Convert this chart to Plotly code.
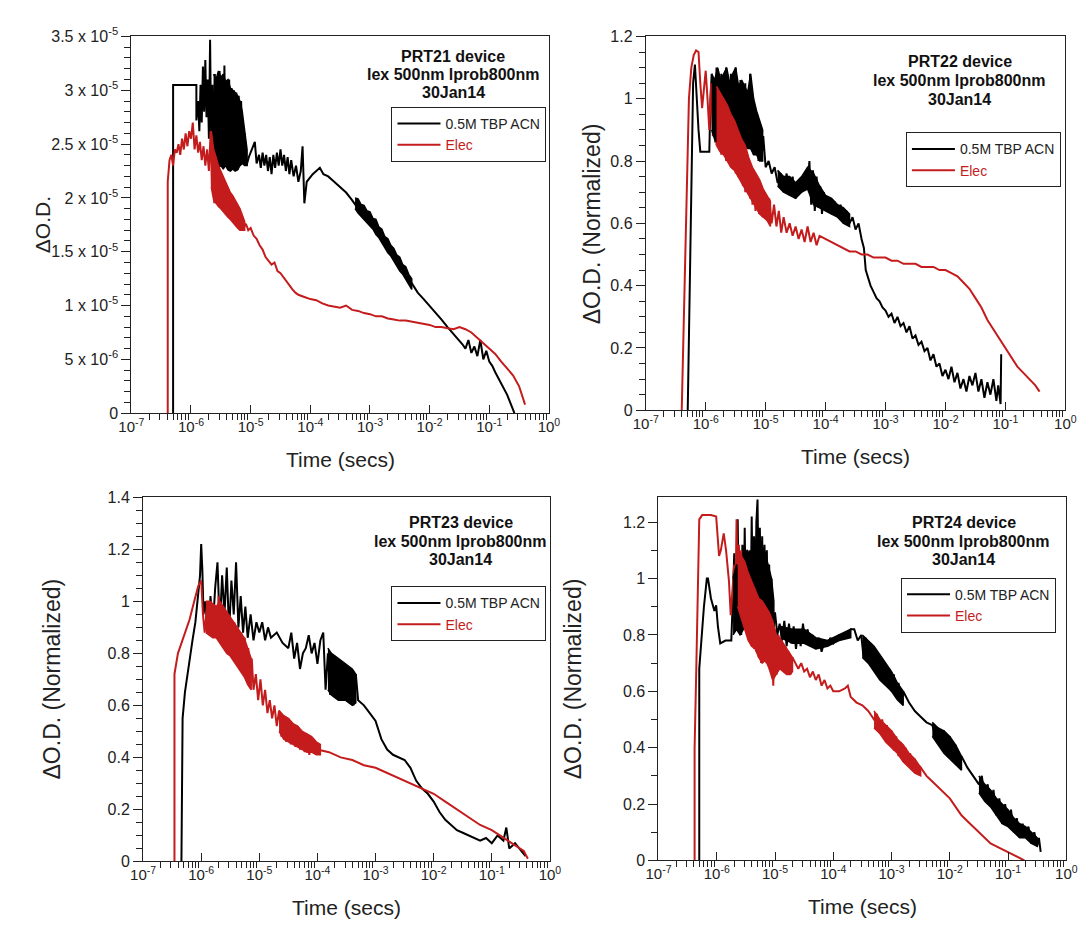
import numpy as np
import plotly.graph_objects as go

# ---------------- data ----------------
# times are log10(t / s); PRT21 values are in units of 1e-5 dOD
p1_black_logt = [-6.30, -6.30, -5.91, -5.91, -5.88, -5.86, -5.84, -5.82, -5.80, -5.78, -5.76, -5.74, -5.72, -5.70,
                 -5.68, -5.66, -5.64, -5.62, -5.60, -5.58, -5.56, -5.54, -5.52, -5.50, -5.48, -5.46, -5.44, -5.42,
                 -5.40, -5.38, -5.36, -5.34, -5.32, -5.30, -5.28, -5.26, -5.24, -5.22, -5.20, -5.18, -5.16, -5.13,
                 -5.10, -5.07, -5.03, -4.98, -4.93, -4.90, -4.86, -4.83, -4.80, -4.77, -4.74, -4.71, -4.68, -4.65,
                 -4.62, -4.59, -4.56, -4.53, -4.50, -4.47, -4.44, -4.41, -4.38, -4.35, -4.32, -4.28, -4.24, -4.20,
                 -4.16, -4.13, -4.10, -4.06, -4.02, -3.96, -3.90, -3.84, -3.78, -3.70, -3.60, -3.50, -3.40, -3.30,
                 -3.20, -3.10, -3.00, -2.90, -2.80, -2.70, -2.60, -2.50, -2.40, -2.30, -2.20, -2.10, -2.00, -1.90,
                 -1.80, -1.70, -1.60, -1.50, -1.45, -1.40, -1.35, -1.30, -1.25, -1.20, -1.15, -1.10, -1.05, -1.00,
                 -0.95, -0.90, -0.80, -0.70, -0.60, -0.58]
p1_black_od_e5 = [0.00, 3.05, 3.05, 2.72, 2.90, 2.62, 3.05, 2.70, 3.22, 2.80, 3.28, 2.75, 3.10, 2.55,
                  3.47, 2.45, 3.05, 2.35, 3.15, 2.30, 3.10, 2.28, 3.18, 2.30, 3.12, 2.27, 3.23, 2.30,
                  3.08, 2.26, 3.10, 2.25, 3.02, 2.27, 3.00, 2.25, 2.98, 2.26, 2.95, 2.30, 2.90, 2.35,
                  2.60, 2.30, 2.38, 2.45, 2.52, 2.32, 2.40, 2.28, 2.42, 2.30, 2.40, 2.25, 2.38, 2.22,
                  2.40, 2.28, 2.42, 2.30, 2.45, 2.30, 2.40, 2.25, 2.38, 2.22, 2.35, 2.20, 2.30, 2.15,
                  2.25, 2.48, 1.95, 2.15, 2.18, 2.22, 2.25, 2.28, 2.22, 2.20, 2.15, 2.10, 2.05, 1.98,
                  1.90, 1.85, 1.80, 1.72, 1.65, 1.56, 1.47, 1.38, 1.30, 1.20, 1.12, 1.06, 1.00, 0.93,
                  0.87, 0.80, 0.74, 0.68, 0.64, 0.60, 0.68, 0.56, 0.62, 0.53, 0.68, 0.50, 0.58, 0.48,
                  0.44, 0.38, 0.28, 0.17, 0.03, 0.00]

p1_red_logt = [-6.39, -6.39, -6.36, -6.33, -6.30, -6.27, -6.24, -6.21, -6.18, -6.15, -6.12, -6.09, -6.06, -6.03,
               -6.00, -5.97, -5.94, -5.91, -5.88, -5.85, -5.82, -5.79, -5.76, -5.73, -5.70, -5.67, -5.65, -5.63,
               -5.61, -5.59, -5.57, -5.55, -5.53, -5.51, -5.49, -5.47, -5.45, -5.43, -5.41, -5.39, -5.37, -5.35,
               -5.33, -5.31, -5.29, -5.27, -5.25, -5.23, -5.21, -5.19, -5.17, -5.15, -5.12, -5.08, -5.04, -5.00,
               -4.95, -4.90, -4.85, -4.80, -4.75, -4.70, -4.65, -4.60, -4.55, -4.50, -4.45, -4.40, -4.35, -4.30,
               -4.25, -4.20, -4.10, -4.00, -3.90, -3.80, -3.70, -3.60, -3.50, -3.40, -3.30, -3.20, -3.10, -3.00,
               -2.90, -2.80, -2.70, -2.60, -2.50, -2.40, -2.30, -2.20, -2.10, -2.00, -1.90, -1.80, -1.70, -1.60,
               -1.50, -1.40, -1.30, -1.20, -1.10, -1.00, -0.90, -0.80, -0.70, -0.60, -0.50, -0.45, -0.40]
p1_red_od_e5 = [0.00, 2.15, 2.35, 2.40, 2.30, 2.45, 2.42, 2.50, 2.40, 2.55, 2.45, 2.60, 2.48, 2.62,
                2.55, 2.70, 2.45, 2.58, 2.42, 2.52, 2.35, 2.48, 2.30, 2.45, 2.25, 2.62, 2.10, 2.45,
                1.95, 2.35, 1.95, 2.28, 1.92, 2.22, 1.90, 2.20, 1.88, 2.15, 1.85, 2.10, 1.82, 2.05,
                1.80, 2.02, 1.78, 1.98, 1.75, 1.95, 1.72, 1.90, 1.70, 1.82, 1.72, 1.76, 1.70, 1.72,
                1.65, 1.62, 1.56, 1.52, 1.45, 1.42, 1.38, 1.40, 1.32, 1.30, 1.26, 1.22, 1.18, 1.15,
                1.12, 1.10, 1.08, 1.06, 1.05, 1.02, 1.00, 0.99, 0.98, 1.00, 0.96, 0.95, 0.93, 0.92,
                0.90, 0.90, 0.88, 0.87, 0.86, 0.86, 0.85, 0.84, 0.83, 0.82, 0.80, 0.80, 0.79, 0.78,
                0.80, 0.78, 0.75, 0.70, 0.65, 0.60, 0.55, 0.48, 0.42, 0.35, 0.25, 0.17, 0.08]

p2_black_logt = [-6.30, -6.27, -6.24, -6.21, -6.18, -6.15, -6.12, -6.09, -6.00, -5.94, -5.92, -5.90, -5.88, -5.86,
                 -5.84, -5.82, -5.80, -5.78, -5.76, -5.74, -5.72, -5.70, -5.68, -5.66, -5.64, -5.62, -5.60, -5.58,
                 -5.56, -5.54, -5.52, -5.50, -5.48, -5.46, -5.44, -5.42, -5.40, -5.38, -5.36, -5.34, -5.32, -5.30,
                 -5.28, -5.26, -5.24, -5.22, -5.20, -5.18, -5.16, -5.14, -5.12, -5.10, -5.07, -5.04, -5.00, -4.95,
                 -4.90, -4.85, -4.80, -4.75, -4.70, -4.65, -4.60, -4.55, -4.50, -4.45, -4.40, -4.35, -4.30, -4.27,
                 -4.24, -4.21, -4.18, -4.15, -4.12, -4.09, -4.06, -4.03, -4.00, -3.95, -3.90, -3.85, -3.80, -3.75,
                 -3.70, -3.65, -3.60, -3.55, -3.50, -3.45, -3.40, -3.36, -3.33, -3.30, -3.25, -3.20, -3.15, -3.10,
                 -3.05, -3.00, -2.95, -2.90, -2.85, -2.80, -2.75, -2.70, -2.65, -2.60, -2.55, -2.50, -2.45, -2.40,
                 -2.35, -2.30, -2.25, -2.20, -2.15, -2.10, -2.05, -2.00, -1.95, -1.90, -1.85, -1.80, -1.75, -1.70,
                 -1.65, -1.60, -1.55, -1.50, -1.45, -1.40, -1.35, -1.30, -1.25, -1.20, -1.15, -1.12, -1.08, -1.07]
p2_black_od = [0.00, 0.40, 0.80, 1.05, 1.11, 1.00, 0.90, 0.83, 0.83, 0.83, 1.00, 1.08, 0.95, 1.06,
               0.86, 1.10, 0.88, 1.05, 0.86, 1.08, 0.88, 1.04, 0.86, 1.10, 0.90, 1.05, 0.86, 1.08,
               0.88, 1.06, 0.87, 1.10, 0.88, 1.04, 0.86, 1.06, 0.85, 1.02, 0.86, 1.05, 0.84, 1.00,
               0.85, 1.08, 0.84, 1.00, 0.82, 0.98, 0.82, 0.95, 0.80, 0.92, 0.80, 0.88, 0.78, 0.80,
               0.76, 0.78, 0.73, 0.76, 0.70, 0.76, 0.69, 0.75, 0.68, 0.73, 0.70, 0.75, 0.72, 0.80,
               0.66, 0.77, 0.64, 0.75, 0.65, 0.72, 0.63, 0.70, 0.66, 0.68, 0.63, 0.67, 0.62, 0.66,
               0.60, 0.64, 0.60, 0.62, 0.58, 0.60, 0.55, 0.52, 0.45, 0.43, 0.40, 0.38, 0.36, 0.35,
               0.33, 0.32, 0.30, 0.31, 0.28, 0.30, 0.27, 0.28, 0.25, 0.27, 0.23, 0.24, 0.21, 0.22,
               0.19, 0.20, 0.16, 0.18, 0.14, 0.15, 0.11, 0.13, 0.10, 0.14, 0.09, 0.12, 0.07, 0.10,
               0.06, 0.11, 0.08, 0.12, 0.06, 0.10, 0.04, 0.09, 0.05, 0.10, 0.03, 0.08, 0.02, 0.18]

p2_red_logt = [-6.40, -6.36, -6.32, -6.28, -6.24, -6.20, -6.16, -6.12, -6.09, -6.06, -6.03, -6.00, -5.97, -5.94,
               -5.91, -5.88, -5.85, -5.82, -5.80, -5.78, -5.76, -5.74, -5.72, -5.70, -5.68, -5.66, -5.64, -5.62,
               -5.60, -5.58, -5.56, -5.54, -5.52, -5.50, -5.48, -5.46, -5.44, -5.42, -5.40, -5.38, -5.36, -5.34,
               -5.32, -5.30, -5.28, -5.26, -5.24, -5.22, -5.20, -5.17, -5.14, -5.11, -5.08, -5.05, -5.02, -4.98,
               -4.94, -4.90, -4.86, -4.82, -4.78, -4.74, -4.70, -4.65, -4.60, -4.55, -4.50, -4.45, -4.40, -4.35,
               -4.30, -4.25, -4.20, -4.15, -4.10, -4.00, -3.90, -3.80, -3.70, -3.60, -3.50, -3.40, -3.30, -3.20,
               -3.10, -3.00, -2.90, -2.80, -2.70, -2.60, -2.50, -2.40, -2.30, -2.20, -2.10, -2.00, -1.90, -1.80,
               -1.70, -1.60, -1.50, -1.40, -1.30, -1.20, -1.10, -1.00, -0.90, -0.80, -0.70, -0.60, -0.50, -0.43]
p2_red_od = [0.00, 0.35, 0.75, 1.00, 1.10, 1.14, 1.155, 1.15, 1.05, 0.97, 1.03, 1.09, 1.00, 0.90,
             1.05, 0.88, 1.02, 0.85, 1.04, 0.84, 1.02, 0.82, 1.00, 0.83, 0.98, 0.80, 0.97, 0.80,
             0.95, 0.78, 0.94, 0.78, 0.92, 0.76, 0.90, 0.75, 0.88, 0.74, 0.86, 0.72, 0.85, 0.70,
             0.83, 0.70, 0.80, 0.68, 0.78, 0.66, 0.76, 0.64, 0.74, 0.63, 0.72, 0.62, 0.70, 0.61,
             0.68, 0.60, 0.66, 0.59, 0.64, 0.57, 0.62, 0.57, 0.60, 0.56, 0.59, 0.55, 0.58, 0.54,
             0.59, 0.54, 0.57, 0.53, 0.56, 0.55, 0.54, 0.53, 0.52, 0.51, 0.51, 0.50, 0.50, 0.49,
             0.49, 0.49, 0.48, 0.48, 0.47, 0.47, 0.47, 0.46, 0.46, 0.46, 0.45, 0.45, 0.44, 0.43,
             0.41, 0.39, 0.36, 0.33, 0.29, 0.26, 0.23, 0.20, 0.17, 0.14, 0.12, 0.10, 0.08, 0.06]

p3_black_logt = [-6.34, -6.32, -6.28, -6.22, -6.15, -6.10, -6.05, -6.02, -6.00, -5.98, -5.96, -5.93, -5.90, -5.87,
                 -5.84, -5.80, -5.76, -5.72, -5.68, -5.64, -5.60, -5.56, -5.52, -5.48, -5.44, -5.40, -5.36, -5.32,
                 -5.28, -5.24, -5.20, -5.15, -5.10, -5.05, -5.00, -4.95, -4.90, -4.85, -4.80, -4.70, -4.60, -4.50,
                 -4.45, -4.40, -4.35, -4.30, -4.25, -4.20, -4.15, -4.10, -4.05, -4.00, -3.95, -3.90, -3.86, -3.82,
                 -3.78, -3.74, -3.70, -3.66, -3.62, -3.58, -3.54, -3.50, -3.46, -3.42, -3.38, -3.34, -3.30, -3.20,
                 -3.10, -3.00, -2.90, -2.80, -2.70, -2.60, -2.50, -2.40, -2.30, -2.20, -2.10, -2.00, -1.90, -1.80,
                 -1.70, -1.60, -1.50, -1.40, -1.30, -1.20, -1.10, -1.00, -0.90, -0.80, -0.75, -0.70, -0.60, -0.50,
                 -0.42]
p3_black_od = [0.00, 0.55, 0.65, 0.75, 0.85, 0.92, 1.02, 1.10, 1.22, 1.12, 0.95, 1.00, 0.92, 0.90,
               1.02, 0.90, 1.05, 1.15, 0.90, 1.10, 0.95, 1.13, 0.88, 1.08, 0.95, 1.15, 0.90, 1.02,
               0.88, 0.98, 0.86, 0.95, 0.85, 0.92, 0.88, 0.92, 0.85, 0.90, 0.86, 0.88, 0.84, 0.82,
               0.88, 0.78, 0.84, 0.74, 0.80, 0.82, 0.87, 0.80, 0.84, 0.76, 0.85, 0.88, 0.66, 0.80,
               0.64, 0.79, 0.63, 0.78, 0.62, 0.76, 0.62, 0.75, 0.61, 0.74, 0.60, 0.72, 0.62, 0.60,
               0.57, 0.54, 0.47, 0.43, 0.41, 0.40, 0.39, 0.36, 0.31, 0.28, 0.26, 0.23, 0.19, 0.16,
               0.14, 0.12, 0.11, 0.10, 0.09, 0.08, 0.09, 0.07, 0.10, 0.08, 0.13, 0.05, 0.07, 0.04,
               0.02]

p3_red_logt = [-6.46, -6.46, -6.40, -6.34, -6.28, -6.20, -6.12, -6.05, -6.00, -5.97, -5.94, -5.90, -5.87, -5.83,
               -5.80, -5.76, -5.73, -5.70, -5.66, -5.62, -5.58, -5.55, -5.52, -5.49, -5.46, -5.43, -5.40, -5.37,
               -5.34, -5.31, -5.28, -5.25, -5.22, -5.19, -5.16, -5.13, -5.10, -5.06, -5.02, -4.98, -4.94, -4.90,
               -4.86, -4.82, -4.78, -4.74, -4.70, -4.66, -4.62, -4.58, -4.54, -4.50, -4.46, -4.42, -4.38, -4.34,
               -4.30, -4.26, -4.22, -4.18, -4.14, -4.10, -4.05, -4.00, -3.80, -3.60, -3.40, -3.20, -3.00, -2.80,
               -2.60, -2.40, -2.20, -2.00, -1.80, -1.60, -1.40, -1.20, -1.00, -0.80, -0.60, -0.45, -0.38]
p3_red_od = [0.00, 0.72, 0.80, 0.84, 0.88, 0.93, 1.00, 1.06, 1.08, 0.95, 0.88, 0.98, 0.90, 1.00,
             0.87, 0.98, 0.88, 1.02, 0.85, 0.98, 0.83, 0.95, 0.80, 0.93, 0.80, 0.92, 0.78, 0.90,
             0.76, 0.88, 0.74, 0.86, 0.72, 0.82, 0.70, 0.78, 0.66, 0.72, 0.62, 0.70, 0.60, 0.66,
             0.57, 0.62, 0.55, 0.60, 0.52, 0.58, 0.48, 0.56, 0.46, 0.55, 0.45, 0.53, 0.44, 0.52,
             0.43, 0.50, 0.42, 0.49, 0.41, 0.47, 0.44, 0.43, 0.42, 0.40, 0.39, 0.37, 0.36, 0.34,
             0.32, 0.30, 0.28, 0.26, 0.23, 0.20, 0.17, 0.14, 0.12, 0.09, 0.06, 0.04, 0.01]

p4_black_logt = [-6.30, -6.30, -6.22, -6.17, -6.15, -6.10, -6.04, -6.01, -5.98, -5.94, -5.85, -5.75, -5.72, -5.70,
                 -5.68, -5.66, -5.64, -5.62, -5.60, -5.58, -5.56, -5.54, -5.52, -5.50, -5.48, -5.46, -5.44, -5.42,
                 -5.40, -5.38, -5.36, -5.34, -5.32, -5.30, -5.28, -5.26, -5.24, -5.22, -5.20, -5.18, -5.16, -5.14,
                 -5.12, -5.10, -5.08, -5.06, -5.04, -5.00, -4.96, -4.92, -4.88, -4.84, -4.80, -4.76, -4.72, -4.68,
                 -4.64, -4.60, -4.56, -4.52, -4.48, -4.44, -4.40, -4.35, -4.30, -4.25, -4.20, -4.15, -4.10, -4.05,
                 -4.00, -3.90, -3.80, -3.70, -3.64, -3.58, -3.52, -3.48, -3.44, -3.40, -3.36, -3.32, -3.28, -3.24,
                 -3.20, -3.16, -3.12, -3.08, -3.04, -3.00, -2.96, -2.92, -2.88, -2.84, -2.80, -2.70, -2.60, -2.50,
                 -2.40, -2.30, -2.25, -2.20, -2.15, -2.10, -2.05, -2.00, -1.95, -1.90, -1.85, -1.80, -1.70, -1.60,
                 -1.50, -1.45, -1.40, -1.35, -1.30, -1.25, -1.20, -1.15, -1.10, -1.05, -1.00, -0.95, -0.90, -0.85,
                 -0.80, -0.75, -0.70, -0.65, -0.60, -0.55, -0.50, -0.47, -0.44]
p4_black_od = [0.00, 0.68, 0.90, 1.00, 1.00, 0.93, 0.885, 0.905, 0.83, 0.77, 0.78, 0.78, 0.95, 1.09,
               0.82, 1.00, 1.21, 0.85, 1.05, 0.80, 1.12, 0.85, 1.18, 0.88, 1.02, 0.82, 1.10, 0.86,
               1.22, 0.90, 1.15, 0.88, 1.20, 1.28, 0.95, 1.18, 0.92, 1.15, 0.88, 1.12, 0.85, 1.10,
               0.82, 1.05, 0.80, 1.00, 0.79, 0.88, 0.80, 0.84, 0.78, 0.85, 0.76, 0.84, 0.77, 0.83,
               0.75, 0.82, 0.76, 0.84, 0.77, 0.82, 0.76, 0.80, 0.75, 0.79, 0.74, 0.78, 0.76, 0.79,
               0.77, 0.80, 0.80, 0.82, 0.82, 0.78, 0.80, 0.72, 0.79, 0.70, 0.77, 0.68, 0.75, 0.66,
               0.72, 0.64, 0.70, 0.62, 0.68, 0.60, 0.66, 0.58, 0.63, 0.56, 0.60, 0.56, 0.53, 0.51,
               0.49, 0.48, 0.44, 0.47, 0.41, 0.46, 0.38, 0.44, 0.36, 0.41, 0.34, 0.37, 0.33, 0.30,
               0.27, 0.30, 0.22, 0.27, 0.20, 0.25, 0.16, 0.22, 0.13, 0.20, 0.12, 0.18, 0.10, 0.15,
               0.08, 0.13, 0.08, 0.12, 0.06, 0.10, 0.05, 0.08, 0.03]

p4_red_logt = [-6.38, -6.38, -6.35, -6.30, -6.25, -6.10, -6.01, -5.96, -5.93, -5.88, -5.84, -5.79, -5.76, -5.73,
               -5.70, -5.68, -5.66, -5.64, -5.62, -5.60, -5.58, -5.56, -5.54, -5.52, -5.50, -5.48, -5.46, -5.44,
               -5.42, -5.40, -5.38, -5.36, -5.34, -5.32, -5.30, -5.28, -5.26, -5.24, -5.22, -5.20, -5.18, -5.15,
               -5.12, -5.09, -5.06, -5.03, -5.00, -4.97, -4.94, -4.91, -4.88, -4.85, -4.82, -4.79, -4.76, -4.73,
               -4.70, -4.65, -4.60, -4.55, -4.50, -4.45, -4.40, -4.35, -4.30, -4.25, -4.20, -4.15, -4.10, -4.05,
               -4.00, -3.90, -3.80, -3.75, -3.70, -3.60, -3.50, -3.40, -3.30, -3.25, -3.20, -3.16, -3.12, -3.08,
               -3.04, -3.00, -2.96, -2.92, -2.88, -2.84, -2.80, -2.76, -2.72, -2.68, -2.64, -2.60, -2.55, -2.50,
               -2.40, -2.30, -2.20, -2.10, -2.00, -1.90, -1.80, -1.70, -1.60, -1.50, -1.40, -1.30, -1.20, -1.10,
               -1.00, -0.90, -0.80, -0.72]
p4_red_od = [0.00, 0.40, 0.69, 1.21, 1.225, 1.225, 1.22, 1.08, 1.10, 1.16, 1.10, 0.99, 0.87, 0.97,
             1.05, 0.90, 1.21, 0.92, 1.12, 0.88, 1.10, 0.85, 1.05, 0.82, 1.08, 0.80, 1.02, 0.78,
             1.00, 0.76, 0.98, 0.75, 0.96, 0.74, 0.95, 0.72, 0.93, 0.70, 0.92, 0.72, 0.90, 0.70,
             0.88, 0.68, 0.86, 0.62, 0.82, 0.66, 0.80, 0.68, 0.78, 0.67, 0.76, 0.66, 0.74, 0.66,
             0.72, 0.70, 0.68, 0.70, 0.67, 0.68, 0.65, 0.67, 0.64, 0.66, 0.62, 0.64, 0.61, 0.62,
             0.60, 0.60, 0.61, 0.62, 0.58, 0.56, 0.55, 0.53, 0.50, 0.52, 0.45, 0.50, 0.43, 0.48,
             0.41, 0.46, 0.39, 0.44, 0.37, 0.42, 0.35, 0.40, 0.34, 0.38, 0.32, 0.36, 0.31, 0.33,
             0.30, 0.28, 0.26, 0.24, 0.22, 0.19, 0.16, 0.14, 0.12, 0.10, 0.08, 0.06, 0.05, 0.04,
             0.03, 0.02, 0.01, 0.00]

# dense-noise envelopes (upper / lower edge)
p1_black_band1_logt = [-5.62, -5.58, -5.54, -5.50, -5.46, -5.42, -5.38, -5.34, -5.30, -5.26, -5.22, -5.18, -5.14, -5.10, -5.06]
p1_black_band1_hi = [3.15, 3.10, 3.18, 3.12, 3.15, 3.08, 3.10, 3.02, 3.00, 2.98, 2.95, 2.90, 2.80, 2.60, 2.45]
p1_black_band1_lo = [2.35, 2.30, 2.28, 2.30, 2.27, 2.30, 2.26, 2.25, 2.27, 2.25, 2.26, 2.30, 2.32, 2.30, 2.30]
p1_black_band2_logt = [-3.25, -3.20, -3.15, -3.10, -3.05, -3.00, -2.95, -2.90, -2.85, -2.80,
                       -2.75, -2.70, -2.65, -2.60, -2.55, -2.50, -2.45, -2.40, -2.35, -2.30]
p1_black_band2_hi = [2.00, 1.99, 1.94, 1.93, 1.88, 1.87, 1.81, 1.80, 1.73, 1.71,
                     1.64, 1.62, 1.56, 1.53, 1.47, 1.45, 1.38, 1.36, 1.29, 1.25]
p1_black_band2_lo = [1.90, 1.86, 1.84, 1.80, 1.77, 1.74, 1.71, 1.66, 1.63, 1.58,
                     1.54, 1.49, 1.46, 1.41, 1.37, 1.32, 1.29, 1.24, 1.20, 1.15]
p1_red_band_logt = [-5.66, -5.62, -5.58, -5.54, -5.50, -5.46, -5.42, -5.38, -5.34, -5.30, -5.26, -5.22, -5.18, -5.14, -5.10]
p1_red_band_hi = [2.62, 2.45, 2.38, 2.30, 2.25, 2.20, 2.15, 2.10, 2.05, 2.02, 1.98, 1.95, 1.90, 1.84, 1.78]
p1_red_band_lo = [2.10, 1.98, 1.95, 1.92, 1.90, 1.88, 1.85, 1.82, 1.80, 1.78, 1.75, 1.72, 1.70, 1.70, 1.70]

p2_black_band1_logt = [-5.90, -5.85, -5.80, -5.75, -5.70, -5.65, -5.60, -5.55, -5.50, -5.45, -5.40, -5.35, -5.30, -5.25, -5.20, -5.15, -5.10, -5.05]
p2_black_band1_hi = [1.08, 1.06, 1.10, 1.06, 1.08, 1.10, 1.05, 1.08, 1.10, 1.04, 1.06, 1.04, 1.02, 1.08, 1.00, 0.96, 0.93, 0.90]
p2_black_band1_lo = [0.90, 0.87, 0.86, 0.86, 0.86, 0.87, 0.86, 0.88, 0.87, 0.86, 0.85, 0.85, 0.84, 0.84, 0.82, 0.82, 0.80, 0.80]
p2_black_band2_logt = [-4.80, -4.70, -4.60, -4.50, -4.40, -4.30, -4.20, -4.10, -4.00, -3.90, -3.80, -3.70, -3.60]
p2_black_band2_hi = [0.77, 0.75, 0.75, 0.73, 0.75, 0.78, 0.76, 0.72, 0.69, 0.68, 0.66, 0.65, 0.63]
p2_black_band2_lo = [0.72, 0.70, 0.69, 0.68, 0.70, 0.71, 0.66, 0.65, 0.64, 0.63, 0.62, 0.60, 0.59]
p2_red_band_logt = [-5.82, -5.76, -5.70, -5.64, -5.58, -5.52, -5.46, -5.40, -5.34, -5.28, -5.22, -5.16, -5.10, -5.04, -4.98, -4.92]
p2_red_band_hi = [1.04, 1.02, 1.00, 0.98, 0.95, 0.93, 0.90, 0.87, 0.85, 0.81, 0.78, 0.76, 0.74, 0.71, 0.69, 0.67]
p2_red_band_lo = [0.85, 0.83, 0.82, 0.80, 0.78, 0.77, 0.75, 0.73, 0.71, 0.69, 0.67, 0.65, 0.63, 0.62, 0.61, 0.59]

p3_black_band_logt = [-3.82, -3.76, -3.70, -3.64, -3.58, -3.52, -3.46, -3.40, -3.34]
p3_black_band_hi = [0.82, 0.80, 0.79, 0.78, 0.77, 0.76, 0.75, 0.74, 0.72]
p3_black_band_lo = [0.66, 0.64, 0.63, 0.62, 0.62, 0.62, 0.61, 0.60, 0.61]
p3_red_band1_logt = [-5.92, -5.86, -5.80, -5.74, -5.68, -5.62, -5.56, -5.50, -5.44, -5.38, -5.32, -5.26, -5.20, -5.14]
p3_red_band1_hi = [1.00, 1.00, 0.99, 0.98, 1.00, 0.98, 0.96, 0.94, 0.92, 0.90, 0.88, 0.86, 0.82, 0.78]
p3_red_band1_lo = [0.88, 0.87, 0.86, 0.86, 0.84, 0.82, 0.80, 0.79, 0.77, 0.75, 0.73, 0.71, 0.68, 0.66]
p3_red_band2_logt = [-4.66, -4.58, -4.50, -4.42, -4.34, -4.26, -4.18, -4.10, -4.02, -3.95]
p3_red_band2_hi = [0.58, 0.56, 0.55, 0.53, 0.52, 0.50, 0.49, 0.48, 0.46, 0.45]
p3_red_band2_lo = [0.50, 0.47, 0.46, 0.45, 0.44, 0.43, 0.42, 0.42, 0.41, 0.41]

p4_black_band1_logt = [-5.72, -5.66, -5.60, -5.54, -5.48, -5.42, -5.36, -5.30, -5.24, -5.18, -5.12, -5.06, -5.02]
p4_black_band1_hi = [1.00, 1.05, 1.02, 1.08, 1.10, 1.08, 1.12, 1.15, 1.12, 1.10, 1.05, 1.00, 0.92]
p4_black_band1_lo = [0.80, 0.82, 0.80, 0.82, 0.85, 0.84, 0.86, 0.88, 0.86, 0.84, 0.82, 0.80, 0.79]
p4_black_band2_logt = [-4.90, -4.70, -4.50, -4.30, -4.10, -3.90, -3.70]
p4_black_band2_hi = [0.83, 0.82, 0.82, 0.79, 0.78, 0.80, 0.82]
p4_black_band2_lo = [0.79, 0.77, 0.77, 0.75, 0.76, 0.78, 0.79]
p4_black_band3_logt = [-3.50, -3.40, -3.30, -3.20, -3.10, -3.00, -2.90, -2.80]
p4_black_band3_hi = [0.80, 0.78, 0.76, 0.73, 0.70, 0.67, 0.63, 0.60]
p4_black_band3_lo = [0.72, 0.70, 0.67, 0.64, 0.62, 0.60, 0.57, 0.55]
p4_black_band4_logt = [-2.30, -2.20, -2.10, -2.00, -1.90, -1.80]
p4_black_band4_hi = [0.49, 0.47, 0.46, 0.44, 0.41, 0.37]
p4_black_band4_lo = [0.44, 0.41, 0.38, 0.36, 0.34, 0.32]
p4_black_band5_logt = [-1.50, -1.40, -1.30, -1.20, -1.10, -1.00, -0.90, -0.80, -0.70, -0.60, -0.50]
p4_black_band5_hi = [0.30, 0.27, 0.25, 0.22, 0.20, 0.18, 0.15, 0.13, 0.12, 0.10, 0.08]
p4_black_band5_lo = [0.24, 0.21, 0.19, 0.16, 0.13, 0.12, 0.10, 0.08, 0.08, 0.06, 0.05]
p4_red_band1_logt = [-5.64, -5.58, -5.52, -5.46, -5.40, -5.34, -5.28, -5.22, -5.16, -5.10, -5.04, -4.98, -4.92, -4.86, -4.80, -4.74, -4.70]
p4_red_band1_hi = [1.12, 1.08, 1.06, 1.02, 0.99, 0.96, 0.93, 0.92, 0.90, 0.88, 0.85, 0.80, 0.79, 0.77, 0.75, 0.73, 0.72]
p4_red_band1_lo = [0.90, 0.86, 0.82, 0.78, 0.76, 0.75, 0.72, 0.70, 0.71, 0.68, 0.64, 0.66, 0.68, 0.67, 0.66, 0.66, 0.67]
p4_red_band2_logt = [-3.30, -3.20, -3.10, -3.00, -2.90, -2.80, -2.70, -2.60, -2.50]
p4_red_band2_hi = [0.53, 0.50, 0.48, 0.46, 0.43, 0.41, 0.38, 0.36, 0.33]
p4_red_band2_lo = [0.47, 0.45, 0.42, 0.40, 0.38, 0.35, 0.33, 0.31, 0.30]

series_names = ["0.5M TBP ACN", "Elec"]
panel_titles = [
    ["PRT21 device", "lex 500nm lprob800nm", "30Jan14"],
    ["PRT22 device", "lex 500nm lprob800nm", "30Jan14"],
    ["PRT23 device", "lex 500nm lprob800nm", "30Jan14"],
    ["PRT24 device", "lex 500nm lprob800nm", "30Jan14"],
]
x_tick_vals = [1e-7, 1e-6, 1e-5, 1e-4, 1e-3, 1e-2, 1e-1, 1e0]
x_tick_text = ["10<sup>-7</sup>", "10<sup>-6</sup>", "10<sup>-5</sup>", "10<sup>-4</sup>",
               "10<sup>-3</sup>", "10<sup>-2</sup>", "10<sup>-1</sup>", "10<sup>0</sup>"]
x_minor_vals = [m * d for d in [1e-7, 1e-6, 1e-5, 1e-4, 1e-3, 1e-2, 1e-1] for m in range(2, 10)]
p1_y_tick_vals = [0, 5e-6, 1e-5, 1.5e-5, 2e-5, 2.5e-5, 3e-5, 3.5e-5]
p1_y_tick_text = ["0", "5 x 10<sup>-6</sup>", "1 x 10<sup>-5</sup>", "1.5 x 10<sup>-5</sup>",
                  "2 x 10<sup>-5</sup>", "2.5 x 10<sup>-5</sup>", "3 x 10<sup>-5</sup>", "3.5 x 10<sup>-5</sup>"]
norm_y_tick_vals = [0, 0.2, 0.4, 0.6, 0.8, 1.0, 1.2, 1.4]
norm_y_tick_text = ["0", "0.2", "0.4", "0.6", "0.8", "1", "1.2", "1.4"]

BLACK = "#000000"
RED = "#c41c1c"
FONT = "Liberation Sans, Arial, Helvetica, sans-serif"
TXT = "#222222"
W, H = 1091, 934

# panel boxes in pixels: (left, right, top, bottom)
boxes = [(121, 548, 26, 411), (647, 1076, 26, 408), (133, 549, 497, 869), (660, 1077, 497, 868)]
y_ranges = [[0, 3.5e-5], [0, 1.2], [0, 1.4], [0, 1.288]]
y_minor = [1e-6, 0.05, 0.05, 0.1]
y_scale = [1e-5, 1.0, 1.0, 1.0]

def px(x):
    return x / W

def py(y):
    return 1 - y / H

fig = go.Figure()

lines = [
    (p1_black_logt, p1_black_od_e5, p1_red_logt, p1_red_od_e5),
    (p2_black_logt, p2_black_od, p2_red_logt, p2_red_od),
    (p3_black_logt, p3_black_od, p3_red_logt, p3_red_od),
    (p4_black_logt, p4_black_od, p4_red_logt, p4_red_od),
]
bands = [
    [(BLACK, p1_black_band1_logt, p1_black_band1_hi, p1_black_band1_lo),
     (BLACK, p1_black_band2_logt, p1_black_band2_hi, p1_black_band2_lo),
     (RED, p1_red_band_logt, p1_red_band_hi, p1_red_band_lo)],
    [(BLACK, p2_black_band1_logt, p2_black_band1_hi, p2_black_band1_lo),
     (BLACK, p2_black_band2_logt, p2_black_band2_hi, p2_black_band2_lo),
     (RED, p2_red_band_logt, p2_red_band_hi, p2_red_band_lo)],
    [(BLACK, p3_black_band_logt, p3_black_band_hi, p3_black_band_lo),
     (RED, p3_red_band1_logt, p3_red_band1_hi, p3_red_band1_lo),
     (RED, p3_red_band2_logt, p3_red_band2_hi, p3_red_band2_lo)],
    [(BLACK, p4_black_band1_logt, p4_black_band1_hi, p4_black_band1_lo),
     (BLACK, p4_black_band2_logt, p4_black_band2_hi, p4_black_band2_lo),
     (BLACK, p4_black_band3_logt, p4_black_band3_hi, p4_black_band3_lo),
     (BLACK, p4_black_band4_logt, p4_black_band4_hi, p4_black_band4_lo),
     (BLACK, p4_black_band5_logt, p4_black_band5_hi, p4_black_band5_lo),
     (RED, p4_red_band1_logt, p4_red_band1_hi, p4_red_band1_lo),
     (RED, p4_red_band2_logt, p4_red_band2_hi, p4_red_band2_lo)],
]
legend_ids = ["legend", "legend2", "legend3", "legend4"]

for i, (bl, bv, rl, rv) in enumerate(lines):
    k = "" if i == 0 else str(i + 1)
    s = y_scale[i]
    fig.add_trace(go.Scatter(x=np.power(10.0, bl), y=np.array(bv) * s, mode="lines", name=series_names[0],
                             line=dict(color=BLACK, width=2), xaxis="x" + k, yaxis="y" + k,
                             legend=legend_ids[i], legendrank=1))
    fig.add_trace(go.Scatter(x=np.power(10.0, rl), y=np.array(rv) * s, mode="lines",
                             name="<span style='color:%s'>%s</span>" % (RED, series_names[1]),
                             line=dict(color=RED, width=2), xaxis="x" + k, yaxis="y" + k,
                             legend=legend_ids[i], legendrank=2))
    for color, lt, hi, lo in bands[i]:
        xs = np.power(10.0, list(lt) + list(lt)[::-1])
        ys = np.array(list(hi) + list(lo)[::-1]) * s
        fig.add_trace(go.Scatter(x=xs, y=ys, mode="lines", fill="toself", fillcolor=color,
                                 line=dict(color=color, width=1.5), showlegend=False,
                                 hoverinfo="skip", xaxis="x" + k, yaxis="y" + k))

layout = dict(width=W, height=H, margin=dict(l=0, r=0, t=0, b=0),
              paper_bgcolor="white", plot_bgcolor="white",
              font=dict(family=FONT, color=TXT, size=14), showlegend=True)

annotations = []
legend_pos = [(387, 98), (913, 124), (387, 588), (908, 579)]
title_pos = [(450, [47, 65, 83]), (968, [52, 71, 90]), (458, [523, 542, 560]), (972, [523, 542, 560])]
ytitle = ["\u0394O.D.", "\u0394O.D. (Normalized)", "\u0394O.D. (Normalized)", "\u0394O.D. (Normalized)"]
ytitle_x = [30, 592, 40, 572]
ytitle_size = [21, 23, 23, 23]

for i, (l, r, t, b) in enumerate(boxes):
    k = "" if i == 0 else str(i + 1)
    if i == 0:
        ytv, ytt = p1_y_tick_vals, p1_y_tick_text
    else:
        ytv = [v for v in norm_y_tick_vals if v <= y_ranges[i][1] + 1e-9]
        ytt = norm_y_tick_text[:len(ytv)]
    ymin_vals = []
    v = 0.0
    while v <= y_ranges[i][1] + 1e-12:
        ymin_vals.append(v)
        v = round(v + y_minor[i], 12)
    layout["xaxis" + k] = dict(
        type="log", range=[-7, 0], domain=[px(l), px(r)], anchor="y" + k,
        showline=True, linecolor="#222", linewidth=1, mirror=True, showgrid=False, zeroline=False,
        tickmode="array", tickvals=x_tick_vals, ticktext=x_tick_text, ticks="inside", ticklen=8,
        tickcolor="#222", tickfont=dict(size=15, color=TXT),
        minor=dict(tickmode="array", tickvals=x_minor_vals, ticks="outside", ticklen=6,
                   tickcolor="#222", showgrid=False))
    layout["yaxis" + k] = dict(
        range=y_ranges[i], domain=[py(b), py(t)], anchor="x" + k,
        showline=True, linecolor="#222", linewidth=1, mirror=True, showgrid=False, zeroline=False,
        tickmode="array", tickvals=ytv, ticktext=ytt, ticks="outside", ticklen=9,
        tickcolor="#222", tickfont=dict(size=16, color=TXT),
        minor=dict(tickmode="array", tickvals=ymin_vals, ticks="outside", ticklen=6,
                   tickcolor="#222", showgrid=False))
    lx, ly = legend_pos[i]
    layout[legend_ids[i]] = dict(x=px(lx), y=py(ly), xanchor="left", yanchor="top",
                                 bgcolor="white", bordercolor="#222", borderwidth=1,
                                 font=dict(size=14, color=TXT), tracegroupgap=0,
                                 itemwidth=43)
    cx, ys = title_pos[i]
    for line, yy in zip(panel_titles[i], ys):
        annotations.append(dict(x=px(cx), y=py(yy), xref="paper", yref="paper", text="<b>%s</b>" % line,
                                showarrow=False, xanchor="center", yanchor="middle",
                                font=dict(size=16, color="#111")))
    annotations.append(dict(x=px((l + r) / 2), y=py(b + 47), xref="paper", yref="paper", text="Time (secs)",
                            showarrow=False, xanchor="center", yanchor="middle",
                            font=dict(size=21, color=TXT)))
    annotations.append(dict(x=px(ytitle_x[i]), y=py((t + b) / 2), xref="paper", yref="paper", text=ytitle[i],
                            showarrow=False, xanchor="center", yanchor="middle", textangle=-90,
                            font=dict(size=ytitle_size[i], color=TXT)))

layout["annotations"] = annotations
fig.update_layout(**layout)
fig.write_html("out.html", post_script="document.body.style.margin='0';document.body.style.overflow='hidden';")
